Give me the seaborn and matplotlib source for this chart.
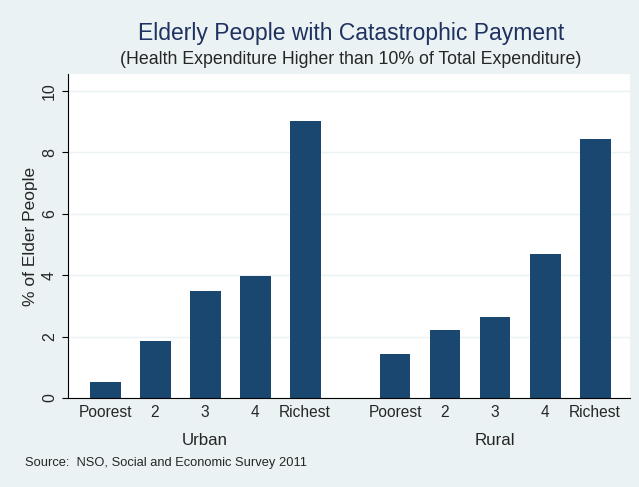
import pandas as pd
import seaborn as sns
import matplotlib.pyplot as plt

quintiles = ["Poorest", "2", "3", "4", "Richest"]
areas = ["Urban", "Rural"]
urban = [0.52, 1.86, 3.48, 3.98, 9.02]
rural = [1.42, 2.20, 2.64, 4.70, 8.42]

# bar slots: one per quintile, extra gap between the two areas
rows = []
for g, (area, vals) in enumerate(zip(areas, [urban, rural])):
    for i, (q, v) in enumerate(zip(quintiles, vals)):
        rows.append({"area": area, "quintile": q, "pos": g * 5.8 + i, "pct": v})
df = pd.DataFrame(rows)

sns.set_style("white")
plt.rcParams["font.family"] = ["Liberation Sans", "DejaVu Sans"]

bg = "#eaf2f3"
bar_col = "#1a476f"

fig = plt.figure(figsize=(6.39, 4.87), dpi=100, facecolor=bg)
ax = fig.add_axes([68 / 639, 1 - 398 / 487, (630 - 68) / 639, (398 - 74) / 487])

sns.barplot(data=df, x="pos", y="pct", native_scale=True, color=bar_col,
            width=0.62, saturation=1, ax=ax, errorbar=None, linewidth=0)

ax.set_xlim(-0.74, 10.5)
ax.set_ylim(0, 10.55)
ax.set_yticks([0, 2, 4, 6, 8, 10])
ax.set_yticklabels(["0", "2", "4", "6", "8", "10"], rotation=90, va="center", fontsize=11.5)
ax.set_xticks(df["pos"])
ax.set_xticklabels(df["quintile"], fontsize=11.2)
ax.tick_params(axis="x", length=0, pad=5)
ax.tick_params(axis="y", length=4, width=0.8, color="black", left=True, pad=4)
ax.set_xlabel("")
ax.set_ylabel("% of Elder People", fontsize=12.5, labelpad=3)
ax.yaxis.grid(True, color=bg, linewidth=1)
ax.set_axisbelow(True)
for s in ["top", "right"]:
    ax.spines[s].set_visible(False)
for s in ["left", "bottom"]:
    ax.spines[s].set_color("black")
    ax.spines[s].set_linewidth(0.8)

# area labels beneath each group
for area in areas:
    centre = df.loc[df["area"] == area, "pos"].mean()
    ax.text(centre, -0.13, area, transform=ax.get_xaxis_transform(),
            ha="center", va="center", fontsize=12.2)

fig.text(351 / 639, 1 - 33 / 487, "Elderly People with Catastrophic Payment",
         ha="center", va="center", fontsize=16.5, color="#1e3160")
fig.text(351 / 639, 1 - 60 / 487, "(Health Expenditure Higher than 10% of Total Expenditure)",
         ha="center", va="center", fontsize=12.8)
fig.text(25 / 639, 1 - 463 / 487, "Source:  NSO, Social and Economic Survey 2011",
         ha="left", va="center", fontsize=9.3)

fig.savefig("out.png", dpi=100, facecolor=bg)
